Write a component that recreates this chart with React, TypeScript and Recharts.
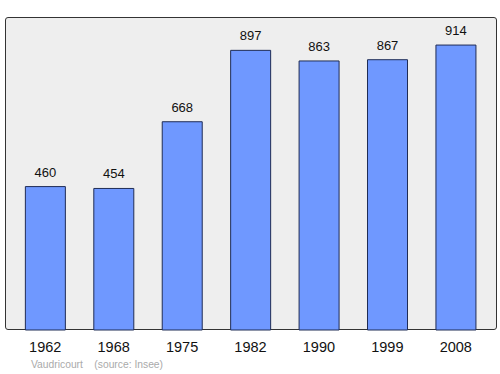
import { Bar, BarChart, LabelList, XAxis, YAxis } from "recharts";

const years = ["1962", "1968", "1975", "1982", "1990", "1999", "2008"];
const population = [460, 454, 668, 897, 863, 867, 914];

const data = years.map((year, i) => ({ year, population: population[i] }));

const FONT = "'Liberation Sans', Arial, sans-serif";

export default function App() {
  return (
    <div style={{ position: "absolute", left: 0, top: 0, width: 500, height: 374, background: "#fff", fontFamily: FONT }}>
      <div
        style={{
          position: "absolute",
          left: 5,
          top: 17,
          width: 490,
          height: 311,
          background: "#eeeeee",
          border: "1px solid #333",
          borderRadius: 3
        }}
      />
      <BarChart
        width={500}
        height={374}
        data={data}
        margin={{ left: 5, right: 3, top: 17, bottom: 14 }}
        barCategoryGap="21%"
        style={{ position: "absolute", left: 0, top: 0 }}
      >
        <XAxis
          dataKey="year"
          height={30}
          axisLine={false}
          tickLine={false}
          padding={{ left: 6, right: 7 }}
          tickMargin={6}
          tick={{ fill: "#111", fontSize: 14.5, fontFamily: FONT }}
          interval={0}
        />
        <YAxis hide domain={[0, 1004]} />
        <Bar dataKey="population" fill="#6f98ff" stroke="#1f2c55" strokeWidth={1} isAnimationActive={false}>
          <LabelList dataKey="population" position="top" offset={10} fill="#111" fontSize={13} fontFamily={FONT} />
        </Bar>
      </BarChart>
      <div style={{ position: "absolute", left: 31, top: 359, fontSize: 10.3, color: "#aaa", whiteSpace: "pre" }}>
        {"Vaudricourt    (source: Insee)"}
      </div>
    </div>
  );
}
